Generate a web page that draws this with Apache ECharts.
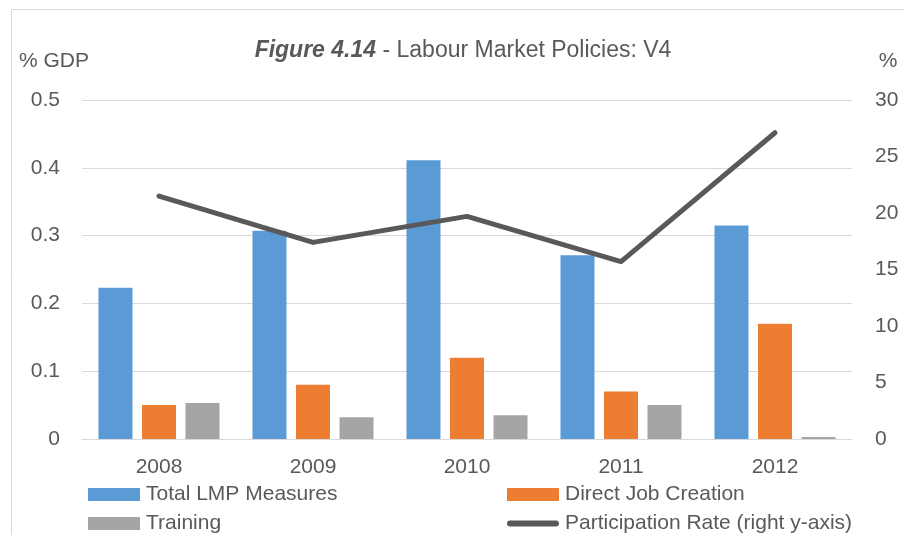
<!DOCTYPE html>
<html>
<head>
<meta charset="utf-8">
<script src="https://cdn.jsdelivr.net/npm/echarts@6/dist/echarts.min.js"></script>
<style>
	html, body { margin: 0; padding: 0; background: #fff; }
	#chart { width: 904px; height: 535px; }
</style>
</head>
<body>
<div id="chart"></div>
<script>
// 数据
var years = ["2008", "2009", "2010", "2011", "2012"];
var totalLmp = [0.223, 0.307, 0.411, 0.271, 0.315];
var directJob = [0.050, 0.080, 0.120, 0.070, 0.170];
var training = [0.053, 0.032, 0.035, 0.050, 0.003];
var participation = [21.5, 17.4, 19.7, 15.7, 27.1];

var font = "Liberation Sans";
var textColor = "#595959";

function legendItem(name, left, top, icon, h) {
	return {
		data: [{ name: name, icon: icon }],
		left: left,
		top: top,
		padding: 0,
		itemWidth: 52,
		itemHeight: h,
		selectedMode: false,
		textStyle: { fontFamily: font, fontSize: 21, color: textColor, padding: [0, 0, 0, 1] },
	};
}

var chart = echarts.init(document.getElementById("chart"));
chart.setOption({
	animation: false,
	textStyle: { fontFamily: font },
	title: {
		text: "{b|Figure 4.14} - Labour Market Policies: V4",
		left: 458,
		textAlign: "center",
		top: 34,
		textStyle: {
			fontFamily: font,
			fontSize: 23,
			fontWeight: "normal",
			color: textColor,
			rich: {
				b: { fontFamily: font, fontSize: 23, fontWeight: "bold", fontStyle: "italic", color: textColor },
			},
		},
	},
	graphic: [
		{
			type: "rect",
			shape: { x: 11.5, y: 9.5, width: 1000, height: 1000 },
			style: { fill: "none", stroke: "#d9d9d9", lineWidth: 1 },
			silent: true,
		},
	],
	legend: [
		legendItem("Total LMP Measures", 88, 484, "rect", 13),
		legendItem("Direct Job Creation", 507, 484, "rect", 13),
		legendItem("Training", 88, 513, "rect", 13),
		legendItem("Participation Rate (right y-axis)", 507, 513,
			"path://M3,0 L49,0 A3,3 0 0 1 49,6 L3,6 A3,3 0 0 1 3,0 Z", 6),
	],
	grid: {
		left: 82,
		right: 52,
		top: 100,
		bottom: 96,
	},
	xAxis: [
		{
			type: "category",
			data: years,
			axisLine: { lineStyle: { color: "#d9d9d9", width: 1 } },
			axisTick: { show: false },
			axisLabel: { fontFamily: font, fontSize: 21, color: textColor, margin: 18 },
		},
	],
	yAxis: [
		{
			type: "value",
			min: 0,
			max: 0.5,
			interval: 0.1,
			name: "% GDP",
			nameLocation: "end",
			nameGap: 39,
			nameTextStyle: { fontFamily: font, fontSize: 21, color: textColor, verticalAlign: "middle", padding: [0, 56, 0, 0] },
			axisLine: { show: false },
			axisTick: { show: false },
			axisLabel: {
				fontFamily: font,
				fontSize: 21,
				color: textColor,
				margin: 22,
				formatter: function (v) { return v === 0 ? "0" : v.toFixed(1); },
			},
			splitLine: { lineStyle: { color: "#d9d9d9", width: 1 } },
		},
		{
			type: "value",
			min: 0,
			max: 30,
			interval: 5,
			name: "%",
			nameLocation: "end",
			nameGap: 39,
			nameTextStyle: { fontFamily: font, fontSize: 21, color: textColor, verticalAlign: "middle", padding: [0, 0, 0, 72] },
			axisLine: { show: false },
			axisTick: { show: false },
			axisLabel: { fontFamily: font, fontSize: 21, color: textColor, margin: 23 },
			splitLine: { show: false },
		},
	],
	series: [
		{
			name: "Total LMP Measures",
			type: "bar",
			data: totalLmp,
			barWidth: 34,
			barGap: "28%",
			itemStyle: { color: "#5b9bd5" },
		},
		{
			name: "Direct Job Creation",
			type: "bar",
			data: directJob,
			barWidth: 34,
			barGap: "28%",
			itemStyle: { color: "#ed7d31" },
		},
		{
			name: "Training",
			type: "bar",
			data: training,
			barWidth: 34,
			barGap: "28%",
			itemStyle: { color: "#a5a5a5" },
		},
		{
			name: "Participation Rate (right y-axis)",
			type: "line",
			yAxisIndex: 1,
			data: participation,
			showSymbol: false,
			symbol: "none",
			lineStyle: { color: "#595959", width: 5, cap: "round", join: "round" },
			itemStyle: { color: "#595959" },
		},
	],
});
</script>
</body>
</html>
